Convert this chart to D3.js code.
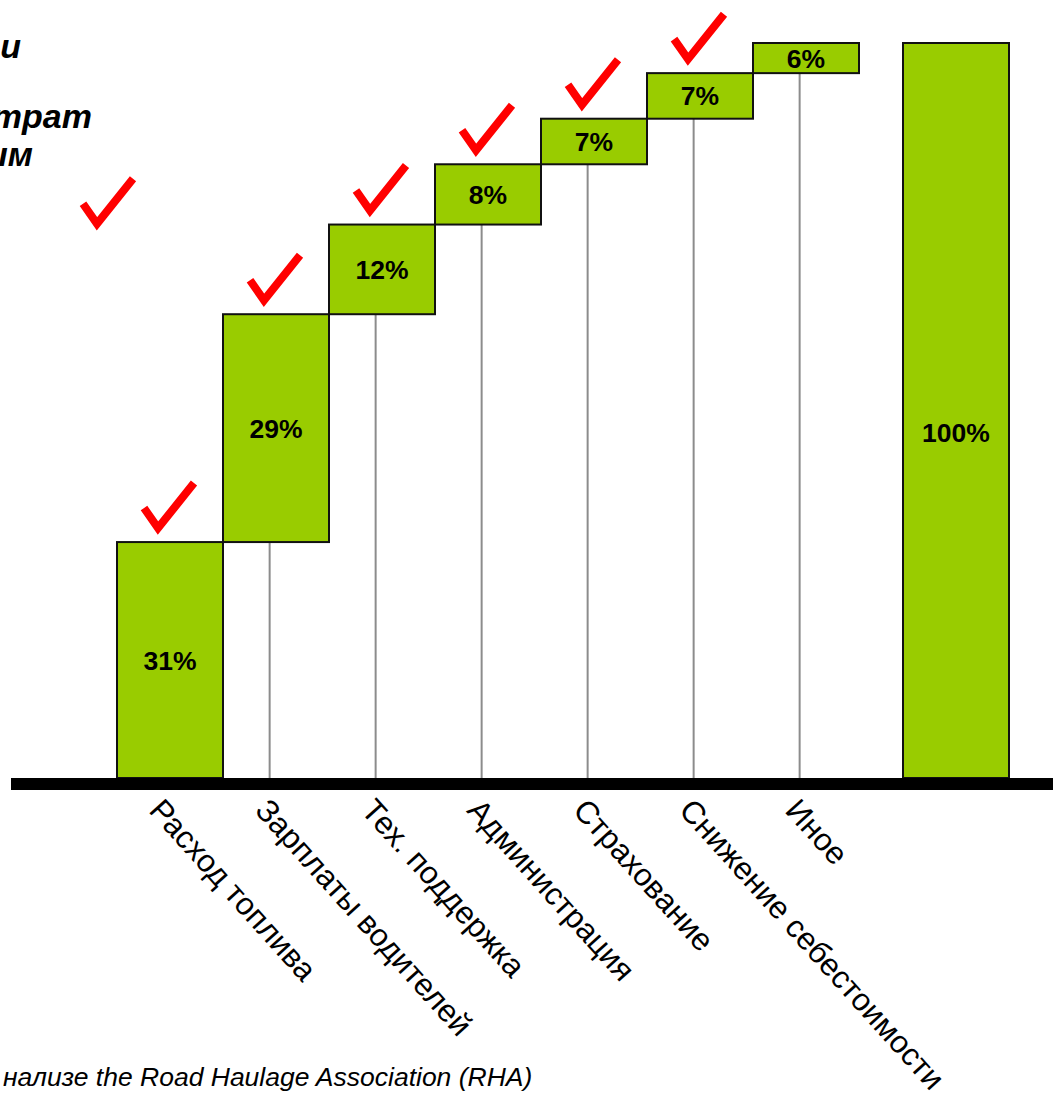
<!DOCTYPE html>
<html lang="ru">
<head>
    <meta charset="UTF-8">
    <script src="https://d3js.org/d3.v7.min.js"></script>
    <title>waterfall</title>
</head>
<style type="text/css">
    body{
        margin:0;
        background:white;
    }
    text{
        font-family:"Liberation Sans", Arial, Helvetica, sans-serif;
    }
    .pct{
        font-size:26.5px;
        font-weight:bold;
        fill:black;
    }
    .cat{
        font-size:31.5px;
        fill:black;
    }
    .title{
        font-size:34px;
        font-weight:bold;
        font-style:italic;
    }
    .note{
        font-size:26.5px;
        font-style:italic;
    }
</style>
<body>
<div id="chart"></div>
<script>

    // categories along the axis
    var categories = ["Расход топлива","Зарплаты водителей","Тех. поддержка","Администрация","Страхование","Снижение себестоимости","Иное"];
    // printed value labels
    var valueLabels = ["31%","29%","12%","8%","7%","7%","6%"];
    // step heights as the bars are drawn (percent of the total bar)
    var barHeights = [32.1, 31.0, 12.2, 8.2, 6.2, 6.2, 4.1];
    // which steps carry a red check mark
    var checked = [true, true, true, true, true, true, false];
    var total = 100;
    var totalLabel = "100%";

    // title fragments visible at the left edge (text is cut off by the frame)
    var titleLines = ["и", "", "трат", "ым"];
    var note = "нализе the Road Haulage Association (RHA)";

    var W = 1053, H = 1094;
    var baseY = 778, topY = 43;

    var svg = d3.select("#chart").append("svg")
        .attr("width", W)
        .attr("height", H);

    var x = d3.scaleBand()
        .domain(categories)
        .range([117, 859])
        .padding(0);
    var bw = x.bandwidth();
    var totalX = x.range()[1] + 44;

    var y = d3.scaleLinear()
        .domain([0, total])
        .range([baseY, topY]);

    // cumulative steps
    var steps = [];
    var run = 0;
    categories.forEach(function(c, i) {
        steps.push({cat: c, start: run, end: run + barHeights[i], label: valueLabels[i], check: checked[i]});
        run += barHeights[i];
    });

    var tickX = function(d) { return x(d.cat) + bw * 0.44; };

    // grey drop lines from each step down to the axis
    svg.selectAll(".drop")
        .data(steps.filter(function(d) { return d.start > 0; }))
        .enter()
        .append("line")
        .attr("class", "drop")
        .attr("x1", tickX)
        .attr("x2", tickX)
        .attr("y1", function(d) { return y(d.start); })
        .attr("y2", baseY)
        .attr("stroke", "#8c8c8c")
        .attr("stroke-width", 2);

    // step bars
    svg.selectAll(".step")
        .data(steps)
        .enter()
        .append("rect")
        .attr("class", "step")
        .attr("x", function(d) { return x(d.cat); })
        .attr("y", function(d) { return y(d.end); })
        .attr("width", bw)
        .attr("height", function(d) { return y(d.start) - y(d.end); })
        .attr("fill", "#99cc00")
        .attr("stroke", "#111")
        .attr("stroke-width", 2);

    // total bar
    svg.append("rect")
        .attr("x", totalX)
        .attr("y", y(total))
        .attr("width", bw)
        .attr("height", y(0) - y(total))
        .attr("fill", "#99cc00")
        .attr("stroke", "#111")
        .attr("stroke-width", 2);

    // value labels
    svg.selectAll(".pct")
        .data(steps)
        .enter()
        .append("text")
        .attr("class", "pct")
        .attr("x", function(d) { return x(d.cat) + bw / 2; })
        .attr("y", function(d) { return (y(d.start) + y(d.end)) / 2; })
        .attr("dy", "0.36em")
        .attr("text-anchor", "middle")
        .text(function(d) { return d.label; });

    svg.append("text")
        .attr("class", "pct")
        .attr("x", totalX + bw / 2)
        .attr("y", (y(0) + y(total)) / 2 + 22)
        .attr("dy", "0.36em")
        .attr("text-anchor", "middle")
        .text(totalLabel);

    // red check marks above the checked steps
    var check = "M-26,-34L-12,-14L24,-59";
    svg.selectAll(".check")
        .data(steps.filter(function(d) { return d.check; }))
        .enter()
        .append("path")
        .attr("class", "check")
        .attr("transform", function(d) { return "translate(" + (x(d.cat) + bw / 2) + "," + y(d.end) + ")"; })
        .attr("d", check)
        .attr("fill", "none")
        .attr("stroke", "#ff0000")
        .attr("stroke-width", 8)
        .attr("stroke-linejoin", "miter");

    // legend check at the left
    svg.append("path")
        .attr("transform", "translate(" + (x(categories[0]) - 8) + "," + y(73.5) + ")")
        .attr("d", check)
        .attr("fill", "none")
        .attr("stroke", "#ff0000")
        .attr("stroke-width", 8);

    // thick axis line
    svg.append("rect")
        .attr("x", 11)
        .attr("y", baseY)
        .attr("width", W - 11)
        .attr("height", 12)
        .attr("fill", "black");

    // rotated category labels
    svg.selectAll(".cat")
        .data(steps)
        .enter()
        .append("text")
        .attr("class", "cat")
        .attr("transform", function(d) { return "translate(" + (tickX(d) + 1) + "," + (baseY + 18) + ") rotate(48)"; })
        .attr("dy", "0.72em")
        .text(function(d) { return d.cat; });

    // title fragments
    var tY = [58, 93, 128, 166];
    var tX = [21, 0, 92, 33];
    svg.selectAll(".title")
        .data(titleLines)
        .enter()
        .append("text")
        .attr("class", "title")
        .attr("x", function(d, i) { return tX[i]; })
        .attr("y", function(d, i) { return tY[i]; })
        .attr("text-anchor", "end")
        .text(function(d) { return d; });

    svg.append("text")
        .attr("class", "note")
        .attr("x", 3)
        .attr("y", 1086)
        .text(note);

</script>
</body>
</html>
